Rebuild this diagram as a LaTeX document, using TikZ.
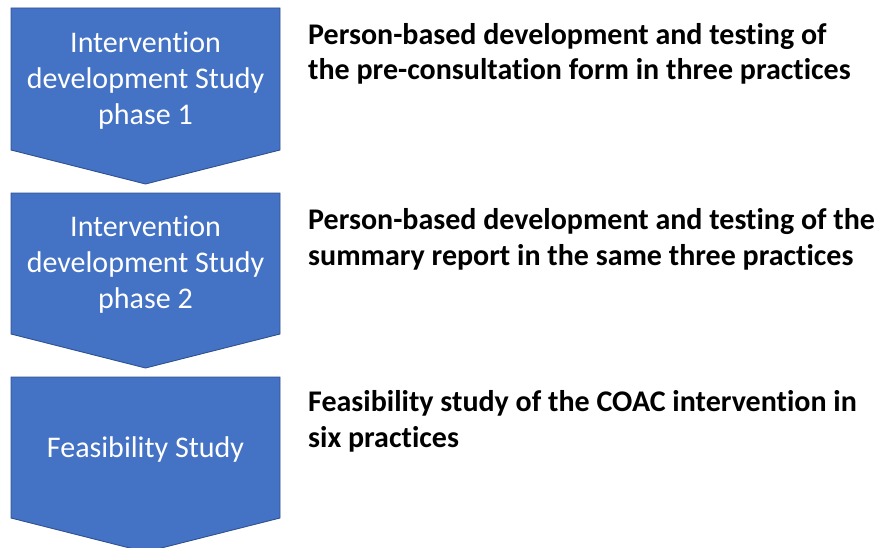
\documentclass[tikz,border=0pt]{standalone}
\usepackage{fontspec}
\setmainfont{Carlito}[Ligatures=NoCommon]
\definecolor{chevfill}{HTML}{4472C4}
\definecolor{chevline}{HTML}{2F528F}
\begin{document}
\begin{tikzpicture}[x=1pt,y=-1pt,
  chev/.style={fill=chevfill,draw=chevline,line width=0.9pt,line join=miter},
  chevtext/.style={text=white,align=center,inner sep=0pt,font=\fontsize{30}{36}\selectfont},
  desc/.style={text=black,align=left,inner sep=0pt,anchor=base west,font=\fontsize{30}{35.5}\selectfont\bfseries}]
\useasboundingbox (0,0) rectangle (877,548);
% chevrons
\draw[chev] (11,8) -- (280,8) -- (280,150) -- (145.5,184) -- (11,150) -- cycle;
\draw[chev] (11,193) -- (280,193) -- (280,334) -- (145.5,368) -- (11,334) -- cycle;
\draw[chev] (11,377) -- (280,377) -- (280,518) -- (145.5,552) -- (11,518) -- cycle;
% labels in chevrons
\node[chevtext] (c1) at (145.5,81) {Intervention\\development Study\\phase 1};
\node[chevtext] (c2) at (145.5,265) {Intervention\\development Study\\phase 2};
\node[chevtext] (c3) at (145.5,449) {Feasibility Study};
% descriptions
\node[desc] (d1) at (308,80) {Person-based development and testing of\\the pre-consultation form in three practices};
\node[desc] (d2) at (308,265) {Person-based development and testing of the\\summary report in the same three practices};
\node[desc] (d3) at (308,447) {Feasibility study of the COAC intervention in\\six practices};
\end{tikzpicture}
\end{document}
